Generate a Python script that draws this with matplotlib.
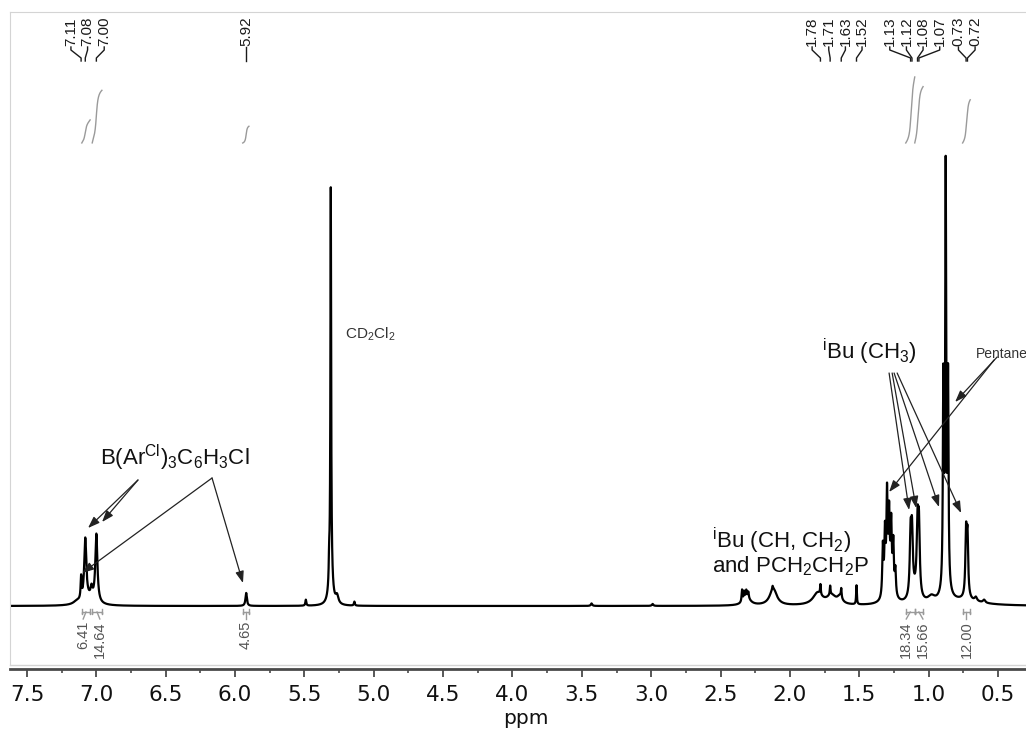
import numpy as np
import matplotlib
matplotlib.use("Agg")
import matplotlib.pyplot as plt
from matplotlib.ticker import MultipleLocator, FormatStrFormatter

plt.rcParams['font.family'] = ['Liberation Sans', 'DejaVu Sans']
plt.rcParams['mathtext.default'] = 'regular'

# lines of the 1H spectrum: shift (ppm), height (a.u.), half width (ppm)
peak_ppm = [7.14, 7.05, 7.11, 7.08, 7.035, 7.00, 5.92,
            5.49, 5.31, 5.31, 5.322, 5.265, 5.14, 3.43, 2.99,
            2.345, 2.33, 2.315, 2.30, 2.31, 2.12, 2.125,
            1.80, 1.70, 1.64, 1.78, 1.71, 1.63, 1.52,
            1.33, 1.315, 1.30, 1.285, 1.27, 1.255, 1.24, 1.28,
            1.13, 1.12, 1.08, 1.07, 1.10, 0.98,
            0.877, 0.860, 0.894, 0.877,
            0.73, 0.72, 0.66, 0.60, 0.75]
peak_height = [3, 6, 22, 62, 10, 68, 13,
               6, 372, 45, 20, 8, 4, 2.5, 2,
               12, 8, 7, 6, 8, 17, 3,
               12, 9, 7, 10, 9, 9, 19,
               50, 60, 95, 70, 62, 48, 25, 15,
               58, 58, 66, 66, 10, 6,
               400, 200, 200, 25,
               62, 58, 4, 3, 5]
peak_hwhm = [0.03, 0.05, 0.004, 0.009, 0.008, 0.009, 0.006,
             0.004, 0.003, 0.012, 0.003, 0.012, 0.004, 0.006, 0.006,
             0.004, 0.004, 0.004, 0.004, 0.03, 0.03, 0.003,
             0.04, 0.04, 0.02, 0.003, 0.003, 0.003, 0.003,
             0.005, 0.005, 0.005, 0.005, 0.005, 0.005, 0.005, 0.03,
             0.007, 0.007, 0.007, 0.007, 0.03, 0.03,
             0.004, 0.004, 0.004, 0.02,
             0.006, 0.006, 0.01, 0.01, 0.15]

# peak picking labels
pick_ppm = [7.11, 7.08, 7.00, 5.92, 1.78, 1.71, 1.63, 1.52,
            1.13, 1.12, 1.08, 1.07, 0.73, 0.72]

# integral regions and values
int_from = [7.105, 7.03, 5.945, 1.165, 1.10, 0.755]
int_to = [7.045, 6.96, 5.90, 1.10, 1.04, 0.70]
int_value = [6.41, 14.64, 4.65, 18.34, 15.66, 12.00]

x_left, x_right = 7.6226, 0.298


def spectrum(x):
    y = np.zeros_like(x)
    for p, h, w in zip(peak_ppm, peak_height, peak_hwhm):
        y += h / (1 + ((x - p) / w) ** 2)
    return y


def spread(pos, gap):
    # push labels apart, keeping each cluster centred on its peaks
    pos = sorted(pos, reverse=True)
    groups = [[p] for p in pos]
    changed = True
    while changed:
        changed = False
        out = []
        for g in groups:
            if out:
                prev = out[-1]
                c1 = np.mean(prev) + gap * (len(prev) - 1) / 2
                last1 = c1 - gap * (len(prev) - 1)
                c2 = np.mean(g) + gap * (len(g) - 1) / 2
                if last1 - c2 < gap:
                    out[-1] = prev + g
                    changed = True
                    continue
            out.append(g)
        groups = out
    res = []
    for g in groups:
        top = np.mean(g) + gap * (len(g) - 1) / 2
        res += [top - gap * i for i in range(len(g))]
    return pos, res


ppm = np.linspace(x_left, x_right, 40000)
inten = spectrum(ppm)

fig = plt.figure(figsize=(10.26, 7.29), dpi=100)
ax = fig.add_axes([10 / 1026, 64 / 729, 1 - 10 / 1026, 653 / 729])

ax.plot(ppm, inten, color='black', lw=1.6)
ax.set_xlim(x_left, x_right)
ax.set_ylim(-59, 594)

frame = '#d4d4d4'
ax.spines['right'].set_visible(False)
ax.spines['top'].set_color(frame)
ax.spines['left'].set_color(frame)
ax.plot([0, 1], [0, 0], transform=ax.transAxes, color=frame, lw=1, clip_on=False)
ax.spines['bottom'].set_position(('outward', 3))
ax.spines['bottom'].set_color('#4a4a4a')
ax.spines['bottom'].set_linewidth(2)
ax.set_yticks([])
ax.xaxis.set_major_locator(MultipleLocator(0.5))
ax.xaxis.set_minor_locator(MultipleLocator(0.25))
ax.xaxis.set_major_formatter(FormatStrFormatter('%.1f'))
ax.tick_params(axis='x', which='major', length=5.5, width=1.3, color='#4a4a4a',
               pad=6, labelsize=15.5, labelcolor='#111111')
ax.tick_params(axis='x', which='minor', length=3, width=1.2, color='#4a4a4a')
for lab in ax.get_xticklabels():
    lab.set_fontfamily('DejaVu Sans')
fig.text(526 / 1026, 11 / 729, 'ppm', ha='center', va='center',
         fontsize=14.5, family='DejaVu Sans', color='#111111')

# peak picking labels along the top
peaks, labx = spread(pick_ppm, 0.12)
for p, lx in zip(peaks, labx):
    ax.text(lx, 560, f'{p:.2f}', rotation=90, ha='center', va='bottom',
            fontsize=11, color='#1a1a1a')
    ax.plot([lx, lx, p, p], [559, 556, 548, 545], color='#1a1a1a', lw=1)

# integrals: curves above, brackets and values below
centres = [(a + b) / 2 for a, b in zip(int_from, int_to)]
_, int_lab = spread(centres, 0.12)
for a, b, v, c, lx in zip(int_from, int_to, int_value, centres, int_lab):
    m = (ppm <= a) & (ppm >= b)
    cum = np.cumsum(inten[m])
    cum = cum / cum[-1]
    ax.plot(ppm[m], 463 + cum * v * 3.6, color='#9a9a9a', lw=1)
    ax.plot([a, a, a, b, b, b], [-3, -8, -6, -6, -8, -3], color='#9a9a9a', lw=1)
    ax.plot([c, lx], [-6, -13], color='#9a9a9a', lw=1)
    ax.text(lx, -15, f'{v:.2f}', rotation=90, ha='center', va='top',
            fontsize=10.5, color='#555555')

# assignments
arrow = dict(arrowstyle='-|>,head_length=0.5,head_width=0.18', color='#222222',
             lw=0.9, shrinkA=0, shrinkB=0, mutation_scale=14)
txt = '#111111'
ax.text(6.433, 141, r'B(Ar$^{Cl}$)$_3$C$_6$H$_3$Cl', ha='center', va='baseline',
        fontsize=16, color=txt)
for tip in [(7.060, 78), (6.959, 84)]:
    ax.annotate('', xy=tip, xytext=(6.700, 126), arrowprops=arrow)
for tip in [(7.103, 33), (5.943, 23)]:
    ax.annotate('', xy=tip, xytext=(6.166, 128), arrowprops=arrow)

ax.text(5.207, 267, r'CD$_2$Cl$_2$', ha='left', va='baseline', fontsize=11,
        color='#333333')

ax.text(1.768, 247, r'$^i$Bu (CH$_3$)', ha='left', va='baseline', fontsize=16,
        color=txt)
for org, tip in zip([1.285, 1.263, 1.249, 1.227],
                    [(1.141, 96), (1.090, 98), (0.925, 99), (0.766, 93)]):
    ax.annotate('', xy=tip, xytext=(org, 233), arrowprops=arrow)

ax.text(0.658, 248, 'Pentane', ha='left', va='baseline', fontsize=10,
        color='#333333')
ax.annotate('', xy=(0.809, 204), xytext=(0.506, 249), arrowprops=arrow)
ax.annotate('', xy=(1.285, 114), xytext=(0.528, 246), arrowprops=arrow)

ax.text(2.561, 58, r'$^i$Bu (CH, CH$_2$)', ha='left', va='baseline',
        fontsize=16, color=txt)
ax.text(2.561, 34, r'and PCH$_2$CH$_2$P', ha='left', va='baseline',
        fontsize=16, color=txt)

fig.savefig('out.png', dpi=100)
